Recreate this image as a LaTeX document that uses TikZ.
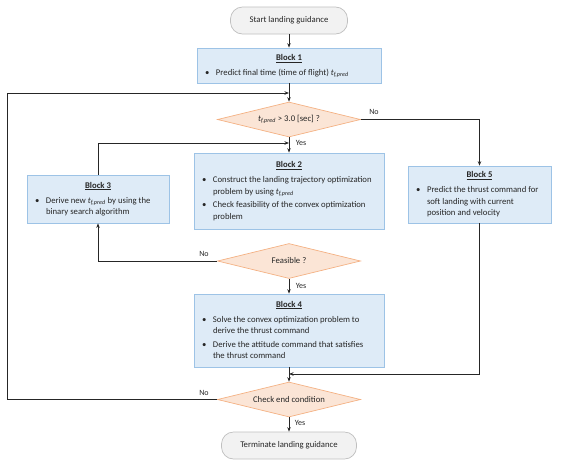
\documentclass[tikz,border=0pt]{standalone}
\usepackage{fontspec}
\setmainfont{Carlito}
\usetikzlibrary{shapes.geometric,arrows.meta}
\definecolor{bfill}{HTML}{DEEBF7}
\definecolor{bdraw}{HTML}{9DC3E6}
\definecolor{dfill}{HTML}{FBE5D6}
\definecolor{ddraw}{HTML}{F4B183}
\definecolor{tfill}{HTML}{F2F2F2}
\definecolor{tdraw}{HTML}{BFBFBF}
\definecolor{ink}{HTML}{262626}
\newcommand{\tfp}{\textit{t}\textsubscript{\textit{f,pred}}}
\newcommand{\blkttl}[1]{\multicolumn{2}{@{}c@{}}{\textbf{\underline{#1}}}}
\newcommand{\bitem}{\hspace*{4pt}•}
\begin{document}
\begin{tikzpicture}[x=1pt,y=-1pt,
  font=\fontsize{8.7pt}{11.6pt}\selectfont, text=ink,
  blk/.style={draw=bdraw,fill=bfill,line width=0.7pt,inner xsep=4pt,inner ysep=2pt},
  dec/.style={diamond,aspect=4,draw=ddraw,fill=dfill,line width=0.7pt,inner sep=0pt,
    minimum width=143pt,minimum height=35pt},
  term/.style={rounded corners=12pt,draw=tdraw,fill=tfill,line width=0.7pt,minimum height=27pt},
  link/.style={draw=ink,line width=0.8pt,-{Stealth[length=4.5pt,width=3.5pt]}},
  lbl/.style={font=\fontsize{8pt}{9pt}\selectfont}]
\useasboundingbox (0,0) rectangle (562,469);
\node[term, minimum width=117pt] (start) at (289,20.5) {Start landing guidance};
\node[blk, minimum width=184pt, minimum height=35pt] (b1) at (289,65.5)
  {\begin{tabular}{@{}p{15pt}@{}p{161pt}@{}}
   \blkttl{Block 1}\\[3.4pt]
   \bitem & Predict final time (time of flight) \tfp
   \end{tabular}};
\node[dec] (d1) at (289,119.5) {\tfp{} > 3.0 [sec] ?};
\node[blk, minimum width=190pt, minimum height=76pt] (b2) at (289,191)
  {\begin{tabular}{@{}p{15pt}@{}p{167pt}@{}}
   \blkttl{Block 2}\\[3.4pt]
   \bitem & Construct the landing trajectory optimization\\
          & problem by using \tfp\\[1.8pt]
   \bitem & Check feasibility of the convex optimization\\
          & problem
   \end{tabular}};
\node[blk, minimum width=142pt, minimum height=48pt] (b3) at (98,199)
  {\begin{tabular}{@{}p{15pt}@{}p{119pt}@{}}
   \blkttl{Block 3}\\[3.4pt]
   \bitem & Derive new \tfp{} by using the\\
          & binary search algorithm
   \end{tabular}};
\node[blk, minimum width=143pt, minimum height=57pt] (b5) at (479.5,194.5)
  {\begin{tabular}{@{}p{15pt}@{}p{120pt}@{}}
   \blkttl{Block 5}\\[3.4pt]
   \bitem & Predict the thrust command for\\
          & soft landing with current\\
          & position and velocity
   \end{tabular}};
\node[dec] (d2) at (289,261) {Feasible ?};
\node[blk, minimum width=190pt, minimum height=73pt] (b4) at (289,330.5)
  {\begin{tabular}{@{}p{15pt}@{}p{167pt}@{}}
   \blkttl{Block 4}\\[3.4pt]
   \bitem & Solve the convex optimization problem to\\
          & derive the thrust command\\[1.8pt]
   \bitem & Derive the attitude command that satisfies\\
          & the thrust command
   \end{tabular}};
\node[dec] (d3) at (289,399.5) {Check end condition};
\node[term, minimum width=135pt] (end) at (289,445.5) {Terminate landing guidance};
\coordinate (j1) at (289,93);
\coordinate (j2) at (289,143);
\coordinate (j3) at (289,374);
\coordinate (lft) at (7,399.5);
\draw[link] (start) -- (b1);
\draw[link] (b1) -- (d1);
\draw[link] (d3.west) -- (lft) |- (j1);
\draw[link] (d1.east) -| (b5.north);
\draw[link] (d1.south) -- (b2.north);
\draw[link] (b3.north) |- (j2);
\draw[link] (d2.south) -- (b4.north);
\draw[link] (d2.west) -| (b3.south);
\draw[link] (b4.south) -- (d3.north);
\draw[link] (b5.south) |- (j3);
\draw[link] (d3.south) -- (end.north);
\node[lbl] (n1) at (374,112) {No};
\node[lbl] (y1) at (301,143) {Yes};
\node[lbl] (n2) at (204,254) {No};
\node[lbl] (y2) at (301,286) {Yes};
\node[lbl] (n3) at (204,393) {No};
\node[lbl] (y3) at (300,423) {Yes};
\end{tikzpicture}
\end{document}
